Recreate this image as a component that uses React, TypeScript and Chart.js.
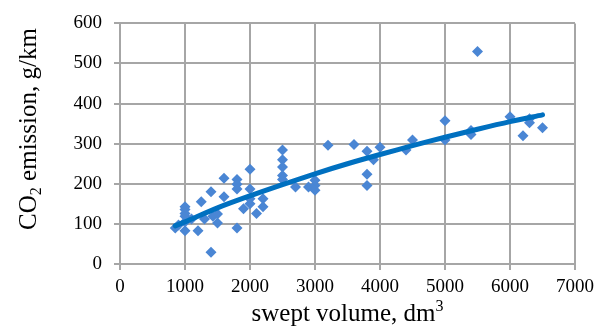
import React, { useEffect, useRef } from "react";
import { Chart, registerables } from "chart.js";

Chart.register(...registerables);

// swept volume (dm3) of each measured vehicle
const sweptVolume: number[] = [
  850, 900, 1000, 1000, 1000, 1000, 1000, 1000, 1100, 1200,
  1250, 1300, 1400, 1400, 1430, 1500, 1500, 1600, 1600, 1800,
  1800, 1800, 1800, 1900, 2000, 2000, 2000, 2000, 2100, 2200,
  2200, 2500, 2500, 2500, 2500, 2500, 2700, 2900, 3000, 3000,
  3000, 3200, 3600, 3800, 3800, 3800, 3900, 4000, 4400, 4500,
  5000, 5000, 5400, 5400, 5500, 6000, 6200, 6300, 6300, 6500,
];
// CO2 emission (g/km) of each measured vehicle
const co2Emission: number[] = [
  90, 97, 83, 105, 119, 126, 136, 143, 112, 83,
  155, 112, 180, 29, 119, 102, 125, 168, 214, 211,
  199, 187, 90, 138, 236, 187, 150, 163, 126, 163,
  143, 284, 260, 242, 221, 211, 192, 192, 184, 196,
  209, 296, 298, 281, 224, 196, 260, 291, 284, 309,
  357, 309, 333, 323, 530, 367, 320, 352, 362, 340,
];

// trend line
const trendX: number[] = [850, 1000, 1500, 2000, 2500, 3000, 3500, 4000, 4500, 5000, 5500, 6000, 6500];
const trendY: number[] = [95, 105, 140, 170, 198, 225, 250, 273, 295, 316, 336, 355, 372];

const xTicks: number[] = [0, 1000, 2000, 3000, 4000, 5000, 6000, 7000];
const yTicks: number[] = [0, 100, 200, 300, 400, 500, 600];

const FONT = '"Liberation Serif", "Times New Roman", serif';

const titlesPlugin = {
  id: "customTitles",
  afterDraw(chart: any) {
    const ctx = chart.ctx as CanvasRenderingContext2D;
    const area = chart.chartArea;
    ctx.save();
    ctx.fillStyle = "#000";
    ctx.textBaseline = "alphabetic";
    ctx.textAlign = "left";
    // x title with superscript
    const main = "swept volume, dm";
    ctx.font = `25px ${FONT}`;
    const w1 = ctx.measureText(main).width;
    ctx.font = `16px ${FONT}`;
    const w2 = ctx.measureText("3").width;
    const cx = (area.left + area.right) / 2;
    const sx = cx - (w1 + w2) / 2;
    ctx.font = `25px ${FONT}`;
    ctx.fillText(main, sx, 321);
    ctx.font = `16px ${FONT}`;
    ctx.fillText("3", sx + w1, 311);

    // y title with subscript
    ctx.translate(36, 129);
    ctx.rotate(-Math.PI / 2);
    ctx.font = `25px ${FONT}`;
    const a = ctx.measureText("CO").width;
    const c = ctx.measureText(" emission, g/km").width;
    ctx.font = `16px ${FONT}`;
    const b = ctx.measureText("2").width;
    const start = -(a + b + c) / 2;
    ctx.font = `25px ${FONT}`;
    ctx.fillText("CO", start, 0);
    ctx.font = `16px ${FONT}`;
    ctx.fillText("2", start + a, 5);
    ctx.font = `25px ${FONT}`;
    ctx.fillText(" emission, g/km", start + a + b, 0);
    ctx.restore();
  },
};

export default function App() {
  const ref = useRef<HTMLCanvasElement | null>(null);

  useEffect(() => {
    if (!ref.current) return;
    const scatter = sweptVolume.map((x, i) => ({ x, y: co2Emission[i] }));
    const trend = trendX.map((x, i) => ({ x, y: trendY[i] }));
    const gridColor = "#a6a6a6";
    const chart = new Chart(ref.current, {
      type: "scatter",
      data: {
        datasets: [
          {
            label: "trend",
            data: trend,
            showLine: true,
            borderColor: "#0070c0",
            borderWidth: 5,
            borderCapStyle: "round",
            pointRadius: 0,
            tension: 0.3,
            order: 0,
          },
          {
            label: "vehicles",
            data: scatter,
            pointStyle: "rectRot",
            pointRadius: 5.5,
            backgroundColor: "#4a86d4",
            borderColor: "#4a86d4",
            borderWidth: 0,
            order: 1,
          },
        ],
      },
      options: {
        responsive: false,
        animation: false,
        devicePixelRatio: 1,
        layout: { padding: { left: 0, right: 30, top: 17, bottom: 0 } },
        plugins: {
          legend: { display: false },
          tooltip: { enabled: false },
        },
        scales: {
          x: {
            type: "linear",
            min: 0,
            max: 7000,
            afterBuildTicks: (scale: any) => {
              scale.ticks = xTicks.map((v) => ({ value: v }));
            },
            afterFit: (scale: any) => {
              scale.height = 67;
            },
            ticks: {
              font: { family: FONT, size: 19 },
              color: "#000",
              padding: 6,
              maxRotation: 0,
              callback: (v: any) => String(v),
            },
            grid: { color: gridColor, lineWidth: 2, tickLength: 6 },
            border: { color: gridColor, width: 2 },
          },
          y: {
            type: "linear",
            min: 0,
            max: 600,
            afterBuildTicks: (scale: any) => {
              scale.ticks = yTicks.map((v) => ({ value: v }));
            },
            afterFit: (scale: any) => {
              scale.width = 120;
            },
            ticks: {
              font: { family: FONT, size: 19 },
              color: "#000",
              padding: 12,
              callback: (v: any) => String(v),
            },
            grid: { color: gridColor, lineWidth: 2, tickLength: 6 },
            border: { color: gridColor, width: 2 },
          },
        },
      },
      plugins: [titlesPlugin],
    } as any);
    return () => chart.destroy();
  }, []);

  return (
    <div style={{ position: "fixed", left: 0, top: 0, width: 605, height: 331, background: "#fff" }}>
      <canvas ref={ref} width={605} height={331} style={{ width: 605, height: 331 }} />
    </div>
  );
}
